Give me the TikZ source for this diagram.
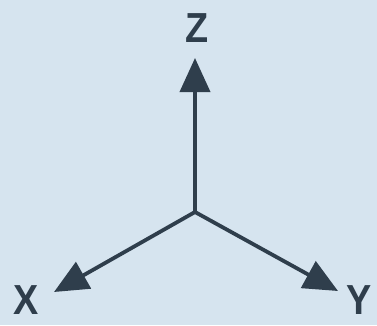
\documentclass[tikz,border=0pt]{standalone}
\usepackage{fontspec}
\setmainfont{Liberation Sans}
\usetikzlibrary{arrows.meta}
\definecolor{axbg}{RGB}{214,228,239}
\definecolor{axdark}{RGB}{47,62,76}

\begin{document}
\begin{tikzpicture}[x=1pt,y=1pt,
    axis/.style={-{Triangle[length=34pt,width=30pt]},line width=3.8pt,color=axdark},
    axlabel/.style={font=\fontsize{42}{42}\selectfont\bfseries,color=axdark,inner sep=0pt,xscale=0.9}]
    \fill[axbg] (0,0) rectangle (377,325);
    \useasboundingbox (0,0) rectangle (377,325);
    \coordinate (orig) at (195,113);
    \coordinate (ztip) at (195,267);
    \coordinate (xtip) at (54,33);
    \coordinate (ytip) at (338,34);
    \draw[axis] (orig) -- (ztip);
    \draw[axis] (orig) -- (xtip);
    \draw[axis] (orig) -- (ytip);
    \node[axlabel] (zlab) at (197,297) {Z};
    \node[axlabel] (xlab) at (26,25) {X};
    \node[axlabel] (ylab) at (359,25) {Y};
  \end{tikzpicture}
\end{document}
